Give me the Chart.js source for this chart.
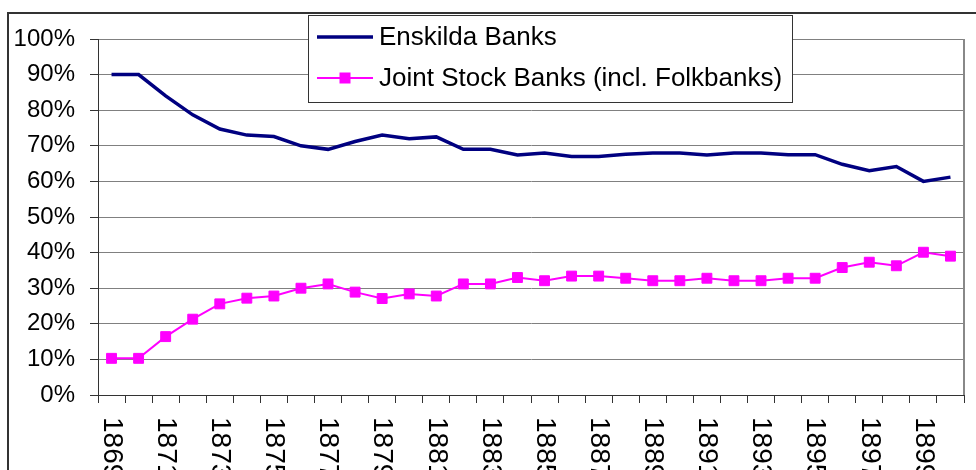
<!DOCTYPE html>
<html>
<head>
<meta charset="utf-8">
<script src="https://cdn.jsdelivr.net/npm/chart.js@4/dist/chart.umd.min.js"></script>
<style>
  body { margin: 0; background: #fff; }
  canvas { display: block; }
</style>
</head>
<body>
<canvas id="grafico" width="976" height="470"></canvas>
<script>
// anos e participacao (%) de cada tipo de banco
const years = [1869, 1870, 1871, 1872, 1873, 1874, 1875, 1876, 1877, 1878, 1879, 1880,
  1881, 1882, 1883, 1884, 1885, 1886, 1887, 1888, 1889, 1890, 1891, 1892, 1893,
  1894, 1895, 1896, 1897, 1898, 1899, 1900];
const enskilda = [90, 90, 84, 78.7, 74.7, 73, 72.6, 70, 69, 71.2, 73, 72, 72.5, 69, 69,
  67.4, 68, 67, 67, 67.6, 68, 68, 67.4, 68, 68, 67.5, 67.5, 64.8, 63, 64.2, 60, 61.2];
const jointStock = [10.3, 10.3, 16.4, 21.3, 25.6, 27.2, 27.8, 30, 31.2, 28.9, 27.1, 28.4,
  27.8, 31.2, 31.2, 33, 32.1, 33.4, 33.4, 32.8, 32.1, 32.1, 32.8, 32.1, 32.1, 32.8, 32.8,
  35.8, 37.3, 36.3, 40.1, 39];
const seriesNames = ['Enskilda Banks', 'Joint Stock Banks (incl. Folkbanks)'];
const yTicks = [0, 10, 20, 30, 40, 50, 60, 70, 80, 90, 100];

const FONT = "'Liberation Sans', Arial, sans-serif";

// moldura externa, borda direita do grafico, legenda e anos girados
const extras = {
  id: 'extras',
  beforeDatasetsDraw(chart) {
    const { ctx, chartArea } = chart;
    ctx.save();
    ctx.strokeStyle = '#888';
    ctx.lineWidth = 2;
    ctx.beginPath();
    ctx.moveTo(chartArea.right, chartArea.top);
    ctx.lineTo(chartArea.right, chartArea.bottom);
    ctx.stroke();
    ctx.restore();
  },
  afterDraw(chart) {
    const { ctx, chartArea } = chart;
    const x = chart.scales.x;
    ctx.save();

    // moldura
    ctx.strokeStyle = '#333';
    ctx.lineWidth = 2;
    ctx.beginPath();
    ctx.moveTo(8, chart.height);
    ctx.lineTo(8, 13);
    ctx.lineTo(chart.width, 13);
    ctx.stroke();

    // anos (de cima para baixo)
    ctx.fillStyle = '#000';
    ctx.font = '28px ' + FONT;
    ctx.textAlign = 'left';
    ctx.textBaseline = 'middle';
    years.forEach((yr, i) => {
      if (i % 2 !== 0) return;
      const px = x.getPixelForValue(i);
      ctx.save();
      ctx.translate(px, chartArea.bottom + 22);
      ctx.rotate(Math.PI / 2);
      ctx.fillText(String(yr), 0, 0);
      ctx.restore();
    });

    // legenda
    const bx = 308, by = 15, bw = 484, bh = 87;
    ctx.fillStyle = '#fff';
    ctx.fillRect(bx, by, bw, bh);
    ctx.strokeStyle = '#333';
    ctx.lineWidth = 1;
    ctx.strokeRect(bx + 0.5, by + 0.5, bw, bh);
    const rows = [37, 78];
    ctx.font = '26px ' + FONT;
    chart.data.datasets.forEach((ds, i) => {
      const y = rows[i];
      ctx.strokeStyle = ds.borderColor;
      ctx.lineWidth = ds.borderWidth;
      ctx.beginPath();
      ctx.moveTo(317, y);
      ctx.lineTo(373, y);
      ctx.stroke();
      if (ds.pointRadius > 0) {
        ctx.fillStyle = ds.backgroundColor;
        ctx.fillRect(345 - 5.5, y - 5.5, 11, 11);
      }
      ctx.fillStyle = '#000';
      ctx.fillText(ds.label, 379, y + 1);
    });
    ctx.restore();
  }
};

const ctx = document.getElementById('grafico').getContext('2d');
const grafico = new Chart(ctx, {
  type: 'line',
  data: {
    labels: years.map(String),
    datasets: [{
      label: seriesNames[0],
      data: enskilda,
      borderColor: '#000080',
      backgroundColor: '#000080',
      borderWidth: 3.5,
      pointRadius: 0,
      tension: 0
    }, {
      label: seriesNames[1],
      data: jointStock,
      borderColor: '#FF00FF',
      backgroundColor: '#FF00FF',
      borderWidth: 2,
      pointStyle: 'rect',
      pointRadius: 7,
      pointBorderWidth: 1,
      tension: 0
    }]
  },
  options: {
    responsive: false,
    animation: false,
    devicePixelRatio: 1,
    layout: { padding: { top: 39, right: 12, left: 0, bottom: 0 } },
    plugins: {
      legend: { display: false },
      tooltip: { enabled: false }
    },
    scales: {
      x: {
        offset: true,
        afterFit(scale) { scale.height = 75; },
        grid: {
          offset: true,
          drawOnChartArea: false,
          drawTicks: true,
          tickLength: 8,
          color: '#333'
        },
        border: { color: '#333', width: 1 },
        ticks: { display: false, autoSkip: false }
      },
      y: {
        min: 0,
        max: 100,
        afterFit(scale) { scale.width = 98; },
        afterBuildTicks(scale) { scale.ticks = yTicks.map(v => ({ value: v })); },
        grid: {
          color: '#808080',
          tickColor: '#333',
          tickLength: 8,
          lineWidth: 1
        },
        border: { color: '#333', width: 1 },
        ticks: {
          padding: 15,
          color: '#000',
          font: { family: FONT, size: 24 },
          callback: v => v + '%'
        }
      }
    }
  },
  plugins: [extras]
});
</script>
</body>
</html>
